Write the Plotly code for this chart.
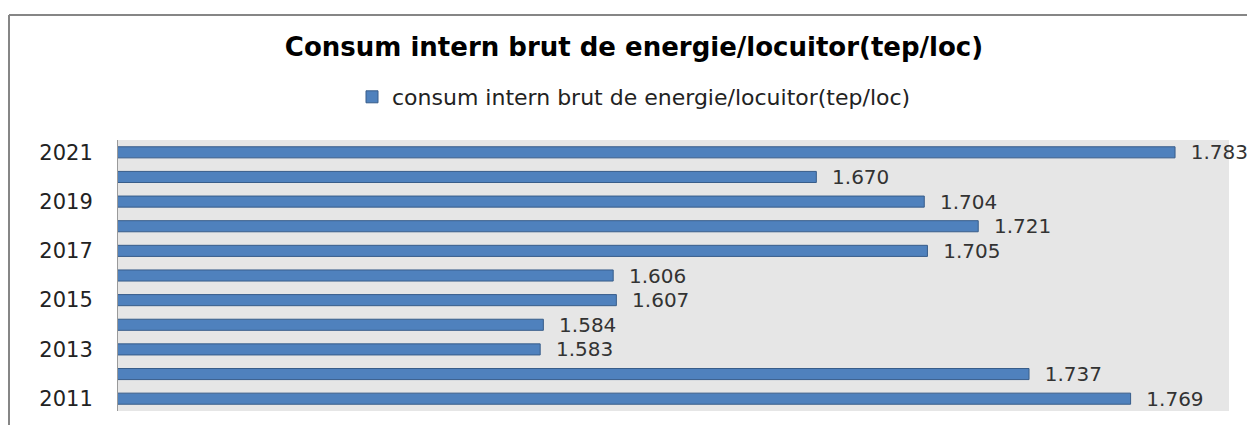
import plotly.graph_objects as go

years = ["2011", "2012", "2013", "2014", "2015", "2016", "2017", "2018", "2019", "2020", "2021"]
values = [1.769, 1.737, 1.583, 1.584, 1.607, 1.606, 1.705, 1.721, 1.704, 1.670, 1.783]
tick_years = ["2011", "2013", "2015", "2017", "2019", "2021"]
title_text = "Consum intern brut de energie/locuitor(tep/loc)"
series_name = "consum intern brut de energie/locuitor(tep/loc)"

fig = go.Figure()
fig.add_trace(go.Bar(
    y=years, x=values, orientation="h", name=series_name,
    marker=dict(color="#4F81BD", line=dict(color="#385D8A", width=1)),
    width=0.45,
    texttemplate="  %{x:.3f}", textposition="outside", cliponaxis=False,
    constraintext="none",
    textfont=dict(family="DejaVu Sans", size=20, color="#333333"),
    showlegend=True,
))

fig.update_layout(
    width=1247, height=425,
    margin=dict(l=118, r=18, t=140, b=14),
    paper_bgcolor="white", plot_bgcolor="#E6E6E6",
    title=dict(text="<b>" + title_text + "</b>", x=(634 - 118) / 1111, xanchor="center", xref="paper",
               y=1 - 47/425, yanchor="middle", yref="container",
               font=dict(family="DejaVu Sans", size=26, color="#000000")),
    showlegend=True,
    legend=dict(orientation="h", x=(634 - 118) / 1111, xanchor="center", y=1 - 97/425, yanchor="middle",
                yref="container", xref="paper",
                font=dict(family="DejaVu Sans", size=22, color="#222222"),
                bgcolor="rgba(0,0,0,0)", itemwidth=30),
)
fig.update_xaxes(range=[1.45, 1.8], showticklabels=False, showgrid=False, zeroline=False,
                 showline=False, ticks="")
fig.update_yaxes(type="category", categoryorder="array", categoryarray=years,
                 tickvals=tick_years, ticktext=tick_years, showgrid=False, zeroline=False,
                 showline=True, linecolor="#9A9A9A", linewidth=1, ticks="",
                 ticklabelstandoff=20,
                 tickfont=dict(family="DejaVu Sans", size=21, color="#222222"))

fig.add_shape(type="line", xref="paper", yref="paper", x0=-109/1111, x1=1.1, y0=1 + 125/271, y1=1 + 125/271,
              line=dict(color="#868686", width=2))
fig.add_shape(type="line", xref="paper", yref="paper", x0=-109/1111, x1=-109/1111, y0=-0.1, y1=1 + 125/271,
              line=dict(color="#868686", width=2))

fig.write_html("out.html", config={"displayModeBar": False},
               post_script="document.body.style.margin='0';")
